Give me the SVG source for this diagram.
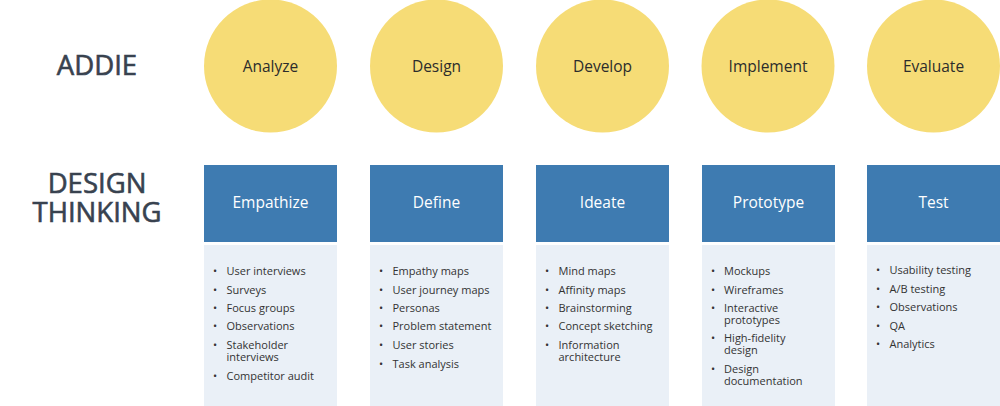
<svg xmlns="http://www.w3.org/2000/svg" width="1000" height="406" viewBox="0 0 1000 406">
<style>
.head{font-family:"Open Sans","Liberation Sans",sans-serif;font-size:27.5px;font-weight:400;fill:#38424f;stroke:#38424f;stroke-width:0.6px;text-anchor:middle}
.circ{fill:#f6dc76}
.clabel{font-family:"Open Sans","Liberation Sans",sans-serif;font-size:15.5px;fill:#2c2c2c;text-anchor:middle}
.box{fill:#3e7bb1}
.blabel{font-family:"Open Sans","Liberation Sans",sans-serif;font-size:15.5px;fill:#ffffff;text-anchor:middle}
.list{fill:#eaf0f7}
.item{font-family:"Open Sans","Liberation Sans",sans-serif;font-size:11px;fill:#333333}
</style>
<rect width="1000" height="406" fill="#ffffff"/>
<g id="headings">
<text class="head" x="97" y="75">ADDIE</text>
<text class="head" x="97" y="193">DESIGN</text>
<text class="head" x="97" y="222">THINKING</text>
</g>
<g id="addie-analyze"><circle class="circ" cx="270.5" cy="66" r="66.5"/><text class="clabel" x="270.5" y="72">Analyze</text></g>
<g id="addie-design"><circle class="circ" cx="436.5" cy="66" r="66.5"/><text class="clabel" x="436.5" y="72">Design</text></g>
<g id="addie-develop"><circle class="circ" cx="602.5" cy="66" r="66.5"/><text class="clabel" x="602.5" y="72">Develop</text></g>
<g id="addie-implement"><circle class="circ" cx="768" cy="66" r="66.5"/><text class="clabel" x="768" y="72">Implement</text></g>
<g id="addie-evaluate"><circle class="circ" cx="933.5" cy="66" r="66.5"/><text class="clabel" x="933.5" y="72">Evaluate</text></g>

<g id="dt-empathize">
<rect class="box" x="204" y="165" width="133" height="77"/>
<text class="blabel" x="270.5" y="208">Empathize</text>
<rect class="list" x="204" y="245" width="133" height="161"/>
<text class="item" x="213" y="275">•</text><text class="item" x="226.5" y="275">User interviews</text>
<text class="item" x="213" y="293.5">•</text><text class="item" x="226.5" y="293.5">Surveys</text>
<text class="item" x="213" y="312">•</text><text class="item" x="226.5" y="312">Focus groups</text>
<text class="item" x="213" y="330">•</text><text class="item" x="226.5" y="330">Observations</text>
<text class="item" x="213" y="349">•</text><text class="item" x="226.5" y="349">Stakeholder</text>
<text class="item" x="226.5" y="361">interviews</text>
<text class="item" x="213" y="379.5">•</text><text class="item" x="226.5" y="379.5">Competitor audit</text>
</g>

<g id="dt-define">
<rect class="box" x="370" y="165" width="133" height="77"/>
<text class="blabel" x="436.5" y="208">Define</text>
<rect class="list" x="370" y="245" width="133" height="161"/>
<text class="item" x="379" y="275">•</text><text class="item" x="392.5" y="275">Empathy maps</text>
<text class="item" x="379" y="293.5">•</text><text class="item" x="392.5" y="293.5">User journey maps</text>
<text class="item" x="379" y="312">•</text><text class="item" x="392.5" y="312">Personas</text>
<text class="item" x="379" y="330">•</text><text class="item" x="392.5" y="330">Problem statement</text>
<text class="item" x="379" y="349">•</text><text class="item" x="392.5" y="349">User stories</text>
<text class="item" x="379" y="367.5">•</text><text class="item" x="392.5" y="367.5">Task analysis</text>
</g>

<g id="dt-ideate">
<rect class="box" x="536" y="165" width="133" height="77"/>
<text class="blabel" x="602.5" y="208">Ideate</text>
<rect class="list" x="536" y="245" width="133" height="161"/>
<text class="item" x="545" y="275">•</text><text class="item" x="558.5" y="275">Mind maps</text>
<text class="item" x="545" y="293.5">•</text><text class="item" x="558.5" y="293.5">Affinity maps</text>
<text class="item" x="545" y="312">•</text><text class="item" x="558.5" y="312">Brainstorming</text>
<text class="item" x="545" y="330">•</text><text class="item" x="558.5" y="330">Concept sketching</text>
<text class="item" x="545" y="349">•</text><text class="item" x="558.5" y="349">Information</text>
<text class="item" x="558.5" y="361">architecture</text>
</g>

<g id="dt-prototype">
<rect class="box" x="702" y="165" width="133" height="77"/>
<text class="blabel" x="768.5" y="208">Prototype</text>
<rect class="list" x="702" y="245" width="133" height="161"/>
<text class="item" x="711" y="275">•</text><text class="item" x="724" y="275">Mockups</text>
<text class="item" x="711" y="293.5">•</text><text class="item" x="724" y="293.5">Wireframes</text>
<text class="item" x="711" y="312">•</text><text class="item" x="724" y="312">Interactive</text>
<text class="item" x="724" y="323.5">prototypes</text>
<text class="item" x="711" y="342">•</text><text class="item" x="724" y="342">High-fidelity</text>
<text class="item" x="724" y="353.5">design</text>
<text class="item" x="711" y="372.5">•</text><text class="item" x="724" y="372.5">Design</text>
<text class="item" x="724" y="384.5">documentation</text>
</g>

<g id="dt-test">
<rect class="box" x="867" y="165" width="133" height="77"/>
<text class="blabel" x="933.5" y="208">Test</text>
<rect class="list" x="867" y="245" width="133" height="161"/>
<text class="item" x="876" y="274">•</text><text class="item" x="889.5" y="274">Usability testing</text>
<text class="item" x="876" y="292.5">•</text><text class="item" x="889.5" y="292.5">A/B testing</text>
<text class="item" x="876" y="311">•</text><text class="item" x="889.5" y="311">Observations</text>
<text class="item" x="876" y="329.5">•</text><text class="item" x="889.5" y="329.5">QA</text>
<text class="item" x="876" y="348">•</text><text class="item" x="889.5" y="348">Analytics</text>
</g>
<g id="connectors"/>
</svg>
